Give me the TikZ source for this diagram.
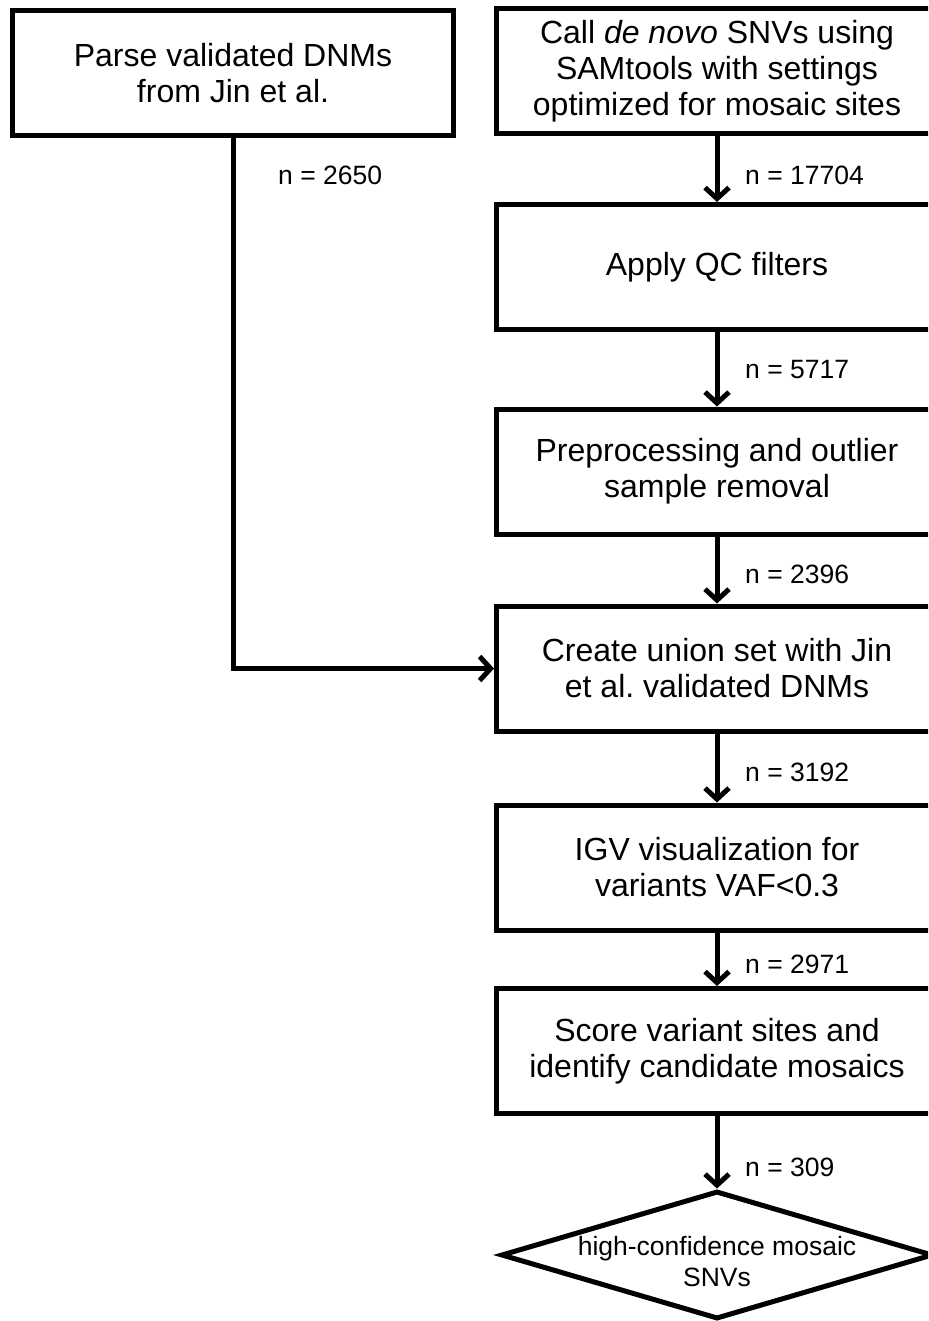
\documentclass[tikz,border=0pt]{standalone}
\usepackage{fontspec}
\setmainfont{Liberation Sans}
\usetikzlibrary{arrows.meta,shapes.geometric}
\frenchspacing

\tikzstyle{stepbox}=[draw,rectangle,line width=5pt,minimum width=441pt,minimum height=125pt,inner sep=0pt,align=center,font=\fontsize{32}{36}\selectfont]
\tikzstyle{dia}=[draw,diamond,line width=5pt,minimum width=432pt,minimum height=128pt,inner sep=0pt]
\tikzstyle{cnt}=[anchor=west,inner sep=0pt,font=\fontsize{26.5}{31}\selectfont]
\tikzstyle{ed}=[->,line width=5pt]

\begin{document}
\begin{tikzpicture}[x=1pt,y=-1pt,>={Straight Barb[length=11pt,width=24pt]}]
  \clip (0,0) rectangle (928,1321);

  \node[stepbox] (parse) at (233,73) {Parse validated DNMs\\from Jin et al.};

  \node[stepbox] (call) at (717,71) {Call \textit{de novo} SNVs using\\SAMtools with settings\\optimized for mosaic sites};
  \node[stepbox] (qc) at (717,267) {Apply QC filters};
  \node[stepbox] (prep) at (717,471.5) {Preprocessing and outlier\\sample removal};
  \node[stepbox] (union) at (717,668.5) {Create union set with Jin\\et al. validated DNMs};
  \node[stepbox] (igv) at (717,867.5) {IGV visualization for\\variants VAF\textless0.3};
  \node[stepbox] (score) at (717,1051) {Score variant sites and\\identify candidate mosaics};

  \node[dia] (snv) at (717,1255) {};
  \node[cnt,anchor=center,align=center] (snvtxt) at (717,1262) {high-confidence mosaic\\SNVs};

  % counts
  \node[cnt] (n0) at (278,175) {n = 2650};
  \node[cnt] (n1) at (745,175) {n = 17704};
  \node[cnt] (n2) at (745,370) {n = 5717};
  \node[cnt] (n3) at (745,574) {n = 2396};
  \node[cnt] (n4) at (745,772) {n = 3192};
  \node[cnt] (n5) at (745,964) {n = 2971};
  \node[cnt] (n6) at (745,1167) {n = 309};

  \path (call) edge [ed] (qc);
  \path (qc) edge [ed] (prep);
  \path (prep) edge [ed] (union);
  \path (union) edge [ed] (igv);
  \path (igv) edge [ed] (score);
  \path (score) edge [ed] (snv);
  \draw[ed] (parse) |- (union);

\end{tikzpicture}
\end{document}
